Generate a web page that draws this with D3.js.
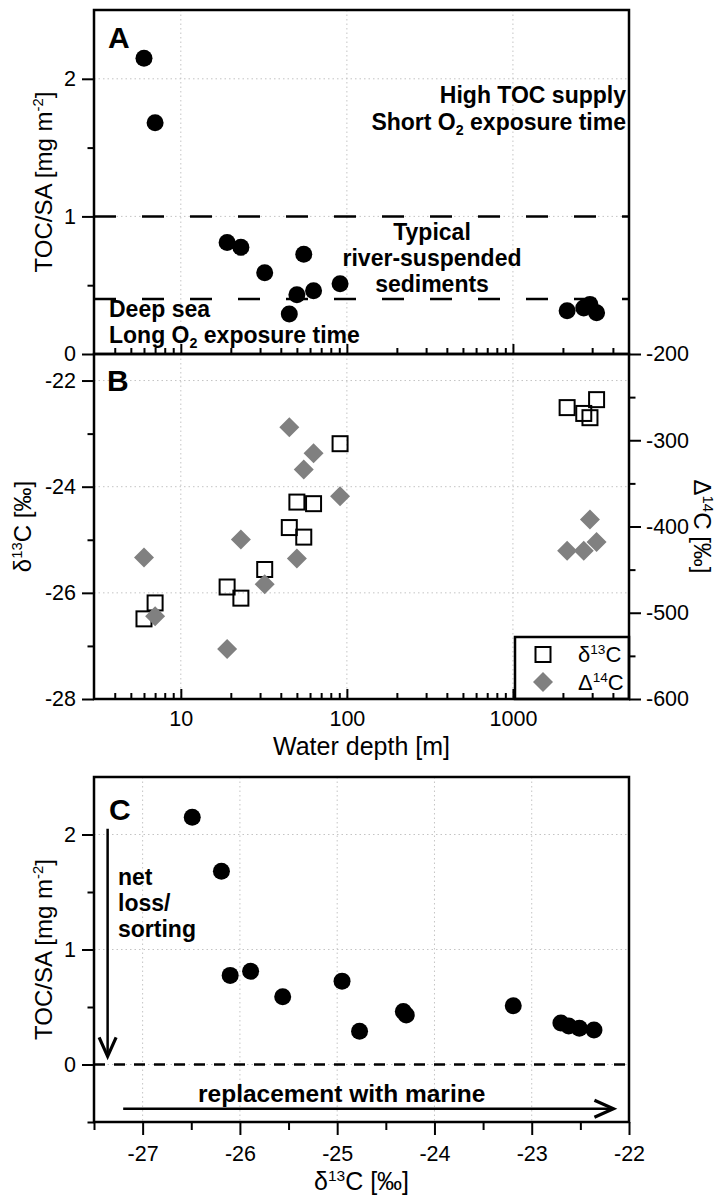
<!DOCTYPE html>
<html>
<head>
<meta charset="utf-8">
<script src="https://cdn.jsdelivr.net/npm/d3@7"></script>
<style>
  body { margin: 0; background: #fff; }
  svg text { font-family: "Liberation Sans", Arial, Helvetica, sans-serif; fill: #000; }
</style>
</head>
<body>
<svg id="chart" width="725" height="1196"></svg>
<script>
// samples, ordered by water depth
const depth = [6, 7, 19, 23, 32, 45, 50, 55, 63, 91, 2120, 2670, 2910, 3190];
const tocSA = [2.15, 1.68, 0.81, 0.775, 0.59, 0.29, 0.43, 0.725, 0.46, 0.51, 0.315, 0.335, 0.36, 0.30];
const d13C = [-26.49, -26.19, -25.89, -26.10, -25.56, -24.77, -24.29, -24.95, -24.32, -23.19, -22.51, -22.62, -22.70, -22.36];
const D14C = [-436, -504, -542, -415, -467, -285, -437, -334, -315, -365, -428, -428, -392, -418];

// reference lines in TOC/SA
const tocBands = [1, 0.4];

// tick values
const depthTicks = [10, 100, 1000];
const depthMinor = [4, 5, 6, 7, 8, 9, 20, 30, 40, 50, 60, 70, 80, 90,
                    200, 300, 400, 500, 600, 700, 800, 900, 2000, 3000, 4000];
const tocTicks = [0, 1, 2];
const tocMinorA = [0.5, 1.5];
const tocMinorC = [-0.5, 0.5, 1.5];
const d13Ticks = [-28, -26, -24, -22];
const d13Minor = [-27, -25, -23];
const D14Ticks = [-600, -500, -400, -300, -200];
const D14Minor = [-550, -450, -350, -250];
const cTicks = [-27, -26, -25, -24, -23, -22];
const cMinor = [-27.5, -26.5, -25.5, -24.5, -23.5, -22.5];

const FONT = '"Liberation Sans", Arial, Helvetica, sans-serif';
const svg = d3.select("#chart");

const L = 94, R = 629;
const panelA = { top: 10, bottom: 354 };
const panelB = { top: 354, bottom: 699 };
const panelC = { top: 777, bottom: 1122 };

// scales
const x = d3.scaleLog().domain([3, 5000]).range([L, R]);
const yA = d3.scaleLinear().domain([0, 2.5]).range([panelA.bottom, panelA.top]);
const yB = d3.scaleLinear().domain([-28, -21.5]).range([panelB.bottom, panelB.top]);
const yB2 = d3.scaleLinear().domain([-600, -200]).range([panelB.bottom, panelB.top]);
const xC = d3.scaleLinear().domain([-27.5, -22]).range([L, R]);
const yC = d3.scaleLinear().domain([-0.5, 2.5]).range([panelC.bottom, panelC.top]);

// text with sub/superscript parts: "plain" or ["2", "sub"] / ["13", "sup"]
function rich(sel, parts, size) {
  let shift = 0;
  parts.forEach(p => {
    const [txt, kind] = Array.isArray(p) ? p : [p, null];
    const target = kind === "sup" ? -0.38 * size : kind === "sub" ? 0.22 * size : 0;
    sel.append("tspan")
      .attr("dy", target - shift)
      .attr("font-size", kind ? size * 0.62 : size)
      .text(txt);
    shift = target;
  });
  return sel;
}

function label(g, px, py, parts, size, opts = {}) {
  const t = g.append("text")
    .attr("font-size", size)
    .attr("font-weight", opts.bold ? "bold" : null)
    .attr("text-anchor", opts.anchor || "start")
    .attr("transform", `translate(${px},${py})` + (opts.rotate ? ` rotate(${opts.rotate})` : ""));
  return rich(t, parts, size);
}

function drawAxis(axis, tx, ty) {
  const a = svg.append("g")
    .attr("transform", `translate(${tx},${ty})`)
    .call(axis)
    .attr("font-size", 21.5)
    .attr("font-family", FONT);
  a.select(".domain").remove();
  a.selectAll(".tick line").attr("stroke", "#000").attr("stroke-width", 2);
  a.selectAll(".tick text").attr("fill", "#000");
  return a;
}

const fmt = d => String(d);

function grid(g, xs, ys, top, bottom) {
  g.selectAll(null).data(xs).join("line")
    .attr("x1", d => d).attr("x2", d => d)
    .attr("y1", top).attr("y2", bottom);
  g.selectAll(null).data(ys).join("line")
    .attr("x1", L).attr("x2", R)
    .attr("y1", d => d).attr("y2", d => d);
  g.selectAll("line")
    .attr("stroke", "#c4c4c4").attr("stroke-width", 1).attr("stroke-dasharray", "1.5,3");
}

// ---------- Panel A ----------
const gA = svg.append("g");
grid(gA.append("g"), depthTicks.map(x), [1, 2].map(yA), panelA.top, panelA.bottom);

gA.selectAll(".band").data(tocBands).join("line")
  .attr("class", "band")
  .attr("x1", L).attr("x2", R)
  .attr("y1", d => yA(d)).attr("y2", d => yA(d))
  .attr("stroke", "#000").attr("stroke-width", 2.5)
  .attr("stroke-dasharray", "22,26");

gA.selectAll("circle").data(d3.range(depth.length)).join("circle")
  .attr("cx", i => x(depth[i]))
  .attr("cy", i => yA(tocSA[i]))
  .attr("r", 8.5)
  .attr("fill", "#000");

label(gA, 108, 48, ["A"], 30, { bold: true });
label(gA, 626, 103, ["High TOC supply"], 23, { bold: true, anchor: "end" });
label(gA, 626, 130, ["Short O", ["2", "sub"], " exposure time"], 23, { bold: true, anchor: "end" });
label(gA, 432, 240, ["Typical"], 23, { bold: true, anchor: "middle" });
label(gA, 432, 266, ["river-suspended"], 23, { bold: true, anchor: "middle" });
label(gA, 432, 292, ["sediments"], 23, { bold: true, anchor: "middle" });
label(gA, 109, 317, ["Deep sea"], 23, { bold: true });
label(gA, 109, 343, ["Long O", ["2", "sub"], " exposure time"], 23, { bold: true });

drawAxis(d3.axisLeft(yA).tickValues(tocTicks).tickFormat(fmt).tickSize(12).tickPadding(6), L, 0);
drawAxis(d3.axisLeft(yA).tickValues(tocMinorA).tickFormat("").tickSize(6.5), L, 0);
drawAxis(d3.axisBottom(x).tickValues(depthTicks).tickFormat("").tickSize(-10), 0, panelA.bottom);
drawAxis(d3.axisBottom(x).tickValues(depthMinor).tickFormat("").tickSize(-6), 0, panelA.bottom);

label(svg, 52, (panelA.top + panelA.bottom) / 2, ["TOC/SA [mg m", ["-2", "sup"], "]"], 24,
  { anchor: "middle", rotate: -90 });

// ---------- Panel B ----------
const gB = svg.append("g");
grid(gB.append("g"), depthTicks.map(x), [-22, -24, -26].map(yB), panelB.top, panelB.bottom);

gB.selectAll("rect.d13").data(d3.range(depth.length)).join("rect")
  .attr("class", "d13")
  .attr("x", i => x(depth[i]) - 7.5)
  .attr("y", i => yB(d13C[i]) - 7.5)
  .attr("width", 15).attr("height", 15)
  .attr("fill", "none").attr("stroke", "#000").attr("stroke-width", 2);

const diamond = d3.symbol(d3.symbolSquare, 200)();
gB.selectAll("path.d14").data(d3.range(depth.length)).join("path")
  .attr("class", "d14")
  .attr("d", diamond)
  .attr("transform", i => `translate(${x(depth[i])},${yB2(D14C[i])}) rotate(45)`)
  .attr("fill", "#808080");

// legend
const leg = gB.append("g");
leg.append("rect")
  .attr("x", 515).attr("y", 637)
  .attr("width", R - 515).attr("height", panelB.bottom - 637)
  .attr("fill", "#fff").attr("stroke", "#000").attr("stroke-width", 2.5);
leg.append("rect")
  .attr("x", 535.5).attr("y", 647)
  .attr("width", 15).attr("height", 15)
  .attr("fill", "none").attr("stroke", "#000").attr("stroke-width", 2);
leg.append("path")
  .attr("d", diamond)
  .attr("transform", "translate(543,682) rotate(45)")
  .attr("fill", "#808080");
label(leg, 578, 662, ["δ", ["13", "sup"], "C"], 22);
label(leg, 578, 690, ["Δ", ["14", "sup"], "C"], 22);

label(gB, 107, 391, ["B"], 30, { bold: true });

drawAxis(d3.axisLeft(yB).tickValues(d13Ticks).tickFormat(fmt).tickSize(12).tickPadding(6), L, 0);
drawAxis(d3.axisLeft(yB).tickValues(d13Minor).tickFormat("").tickSize(6.5), L, 0);
drawAxis(d3.axisRight(yB2).tickValues(D14Ticks).tickFormat(fmt).tickSize(12).tickPadding(5), R, 0);
drawAxis(d3.axisRight(yB2).tickValues(D14Minor).tickFormat("").tickSize(6.5), R, 0);
drawAxis(d3.axisBottom(x).tickValues(depthTicks).tickFormat(fmt).tickSizeInner(-10).tickSizeOuter(0).tickPadding(12), 0, panelB.bottom);
drawAxis(d3.axisBottom(x).tickValues(depthMinor).tickFormat("").tickSize(-6), 0, panelB.bottom);

label(svg, 31, (panelB.top + panelB.bottom) / 2, ["δ", ["13", "sup"], "C [‰]"], 24,
  { anchor: "middle", rotate: -90 });
label(svg, 694, (panelB.top + panelB.bottom) / 2, ["Δ", ["14", "sup"], "C [‰]"], 24,
  { anchor: "middle", rotate: 90 });
label(svg, (L + R) / 2, 755, ["Water depth [m]"], 25, { anchor: "middle" });

// frames for A and B
[panelA, panelB].forEach(p => {
  svg.append("rect")
    .attr("x", L).attr("y", p.top)
    .attr("width", R - L).attr("height", p.bottom - p.top)
    .attr("fill", "none").attr("stroke", "#000").attr("stroke-width", 2.5);
});

// ---------- Panel C ----------
const gC = svg.append("g");
grid(gC.append("g"), cTicks.slice(0, -1).map(xC), [0, 1, 2].map(yC), panelC.top, panelC.bottom);

gC.append("line")
  .attr("x1", L).attr("x2", R)
  .attr("y1", yC(0)).attr("y2", yC(0))
  .attr("stroke", "#000").attr("stroke-width", 2.5)
  .attr("stroke-dasharray", "11,9");

gC.selectAll("circle").data(d3.range(depth.length)).join("circle")
  .attr("cx", i => xC(d13C[i]))
  .attr("cy", i => yC(tocSA[i]))
  .attr("r", 8.5)
  .attr("fill", "#000");

// arrows
function arrow(g, x1, y1, x2, y2) {
  const a = Math.atan2(y2 - y1, x2 - x1), len = 19, half = 8.5;
  const bx = x2 - len * Math.cos(a), by = y2 - len * Math.sin(a);
  const nx = -Math.sin(a) * half, ny = Math.cos(a) * half;
  g.append("line")
    .attr("x1", x1).attr("y1", y1).attr("x2", x2 - 3 * Math.cos(a)).attr("y2", y2 - 3 * Math.sin(a))
    .attr("stroke", "#000").attr("stroke-width", 2.5);
  g.append("path")
    .attr("d", `M${bx + nx},${by + ny}L${x2},${y2}L${bx - nx},${by - ny}`)
    .attr("fill", "none").attr("stroke", "#000").attr("stroke-width", 3.2)
    .attr("stroke-linejoin", "miter");
}
arrow(gC, xC(-27.36), yC(2.05), xC(-27.36), yC(0.07));
arrow(gC, xC(-27.2), yC(-0.385), xC(-22.16), yC(-0.385));

label(gC, 109, 820, ["C"], 30, { bold: true });
label(gC, 118, 885, ["net"], 23, { bold: true });
label(gC, 118, 911, ["loss/"], 23, { bold: true });
label(gC, 118, 937, ["sorting"], 23, { bold: true });
label(gC, 198, 1102, ["replacement with marine"], 24.5, { bold: true });

drawAxis(d3.axisLeft(yC).tickValues(tocTicks).tickFormat(fmt).tickSize(12).tickPadding(6), L, 0);
drawAxis(d3.axisLeft(yC).tickValues(tocMinorC).tickFormat("").tickSize(6.5), L, 0);
drawAxis(d3.axisBottom(xC).tickValues(cTicks).tickFormat(fmt).tickSize(13).tickPadding(11), 0, panelC.bottom);
drawAxis(d3.axisBottom(xC).tickValues(cMinor).tickFormat("").tickSize(8), 0, panelC.bottom);

svg.append("rect")
  .attr("x", L).attr("y", panelC.top)
  .attr("width", R - L).attr("height", panelC.bottom - panelC.top)
  .attr("fill", "none").attr("stroke", "#000").attr("stroke-width", 2.5);

label(svg, 52, (panelC.top + panelC.bottom) / 2, ["TOC/SA [mg m", ["-2", "sup"], "]"], 24,
  { anchor: "middle", rotate: -90 });
label(svg, (L + R) / 2, 1190, ["δ", ["13", "sup"], "C [‰]"], 25, { anchor: "middle" });
</script>
</body>
</html>
